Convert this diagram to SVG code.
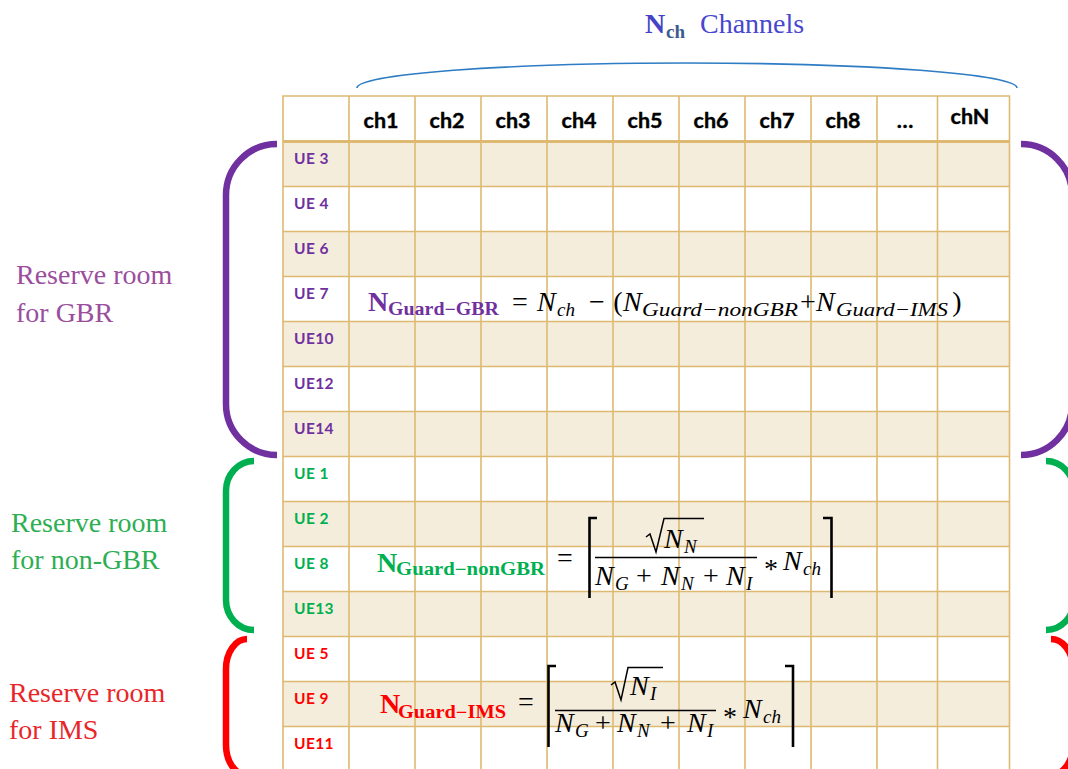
<svg xmlns="http://www.w3.org/2000/svg" width="1068" height="769" viewBox="0 0 1068 769">
  <defs>
    <style>
      .bg { fill: #ffffff; }
      .stripe { fill: #F5EDDC; }
      .grid { stroke: #DDB971; stroke-width: 1.6; fill: none; }
      .gridThick { stroke: #DDB971; stroke-width: 3.2; fill: none; }
      .hdr { font-family: Lato, "Liberation Sans", sans-serif; font-weight: 700; font-size: 21.5px; fill: #000; text-anchor: middle; stroke: #000; stroke-width: 0.4; }
      .ue { font-family: Lato, "Liberation Sans", sans-serif; font-weight: 700; font-size: 15.5px; letter-spacing: 0.4px; }
      .purple { fill: #7030A0; }
      .green { fill: #00B050; }
      .red { fill: #FF0000; }
      .side { font-family: "Liberation Serif", "Times New Roman", serif; font-size: 28px; }
      .brace { fill: none; stroke-width: 6.5; stroke-linecap: butt; }
      .m { font-family: "Liberation Serif", serif; font-style: italic; font-size: 28px; fill: #000; }
      .ms { font-family: "Liberation Serif", serif; font-style: italic; font-size: 19px; fill: #000; }
      .op { font-family: "Liberation Serif", serif; font-size: 28px; fill: #000; text-anchor: middle; }
      .bn { font-family: "Liberation Serif", serif; font-weight: 700; font-size: 28px; }
      .bs { font-family: "Liberation Serif", serif; font-weight: 700; font-size: 18px; }
      .rule { stroke: #000; stroke-width: 1.5; fill: none; }
      .delim { stroke: #000; stroke-width: 2.6; fill: none; }
    </style>
  </defs>

  <rect class="bg" x="0" y="0" width="1068" height="769"/>

  <!-- title over the channel columns -->
  <g id="title">
    <text x="645" y="33" font-family="Liberation Serif, serif" font-weight="700" font-size="28" fill="#4444C4">N</text>
    <text x="666" y="38" font-family="Liberation Serif, serif" font-weight="700" font-size="19" fill="#3B5B8E">ch</text>
    <text x="700" y="33" font-family="Liberation Serif, serif" font-size="28" fill="#4747CF">Channels</text>
  </g>

  <!-- channel table -->
  <g id="table">
    <rect x="283" y="96" width="726.5" height="45.5" fill="#fff"/>
    <g id="stripes">
      <rect class="stripe" x="283" y="141.5" width="726.5" height="45"/>
      <rect class="stripe" x="283" y="231.5" width="726.5" height="45"/>
      <rect class="stripe" x="283" y="321.5" width="726.5" height="45"/>
      <rect class="stripe" x="283" y="411.5" width="726.5" height="45"/>
      <rect class="stripe" x="283" y="501.5" width="726.5" height="45"/>
      <rect class="stripe" x="283" y="591.5" width="726.5" height="45"/>
      <rect class="stripe" x="283" y="681.5" width="726.5" height="45"/>
    </g>
    <g id="rows">
      <line class="grid" x1="283" y1="186.5" x2="1009.5" y2="186.5"/>
      <line class="grid" x1="283" y1="231.5" x2="1009.5" y2="231.5"/>
      <line class="grid" x1="283" y1="276.5" x2="1009.5" y2="276.5"/>
      <line class="grid" x1="283" y1="321.5" x2="1009.5" y2="321.5"/>
      <line class="grid" x1="283" y1="366.5" x2="1009.5" y2="366.5"/>
      <line class="grid" x1="283" y1="411.5" x2="1009.5" y2="411.5"/>
      <line class="grid" x1="283" y1="456.5" x2="1009.5" y2="456.5"/>
      <line class="grid" x1="283" y1="501.5" x2="1009.5" y2="501.5"/>
      <line class="grid" x1="283" y1="546.5" x2="1009.5" y2="546.5"/>
      <line class="grid" x1="283" y1="591.5" x2="1009.5" y2="591.5"/>
      <line class="grid" x1="283" y1="636.5" x2="1009.5" y2="636.5"/>
      <line class="grid" x1="283" y1="681.5" x2="1009.5" y2="681.5"/>
      <line class="grid" x1="283" y1="726.5" x2="1009.5" y2="726.5"/>
    </g>
    <g id="cols">
      <line class="grid" x1="349" y1="96" x2="349" y2="769"/>
      <line class="grid" x1="415" y1="96" x2="415" y2="769"/>
      <line class="grid" x1="481" y1="96" x2="481" y2="769"/>
      <line class="grid" x1="547" y1="96" x2="547" y2="769"/>
      <line class="grid" x1="613" y1="96" x2="613" y2="769"/>
      <line class="grid" x1="679" y1="96" x2="679" y2="769"/>
      <line class="grid" x1="745" y1="96" x2="745" y2="769"/>
      <line class="grid" x1="811" y1="96" x2="811" y2="769"/>
      <line class="grid" x1="877" y1="96" x2="877" y2="769"/>
      <line class="grid" x1="937.5" y1="96" x2="937.5" y2="769"/>
    </g>
    <path class="grid" d="M283,769 L283,96 L1009.5,96 L1009.5,769" stroke-width="2.2"/>
    <line class="gridThick" x1="283" y1="141.5" x2="1009.5" y2="141.5"/>

    <g id="header">
      <text class="hdr" x="381" y="128">ch1</text>
      <text class="hdr" x="447" y="128">ch2</text>
      <text class="hdr" x="513" y="128">ch3</text>
      <text class="hdr" x="579" y="128">ch4</text>
      <text class="hdr" x="645" y="128">ch5</text>
      <text class="hdr" x="711" y="128">ch6</text>
      <text class="hdr" x="777" y="128">ch7</text>
      <text class="hdr" x="843" y="128">ch8</text>
      <text class="hdr" x="905" y="128">…</text>
      <text class="hdr" x="970" y="124" font-size="18">chN</text>
    </g>

    <g id="ue-labels">
      <text class="ue purple" x="294" y="164">UE 3</text>
      <text class="ue purple" x="294" y="209">UE 4</text>
      <text class="ue purple" x="294" y="254">UE 6</text>
      <text class="ue purple" x="294" y="299">UE 7</text>
      <text class="ue purple" x="294" y="344">UE10</text>
      <text class="ue purple" x="294" y="389">UE12</text>
      <text class="ue purple" x="294" y="434">UE14</text>
      <text class="ue green" x="294" y="479">UE 1</text>
      <text class="ue green" x="294" y="524">UE 2</text>
      <text class="ue green" x="294" y="569">UE 8</text>
      <text class="ue green" x="294" y="614">UE13</text>
      <text class="ue red" x="294" y="659">UE 5</text>
      <text class="ue red" x="294" y="704">UE 9</text>
      <text class="ue red" x="294" y="749">UE11</text>
    </g>
  </g>

  <!-- group labels on the left -->
  <g id="label-gbr">
    <text class="side" x="16" y="284" fill="#9B4D9E">Reserve room</text>
    <text class="side" x="16" y="322" fill="#9B4D9E">for GBR</text>
  </g>
  <g id="label-nongbr">
    <text class="side" x="11" y="532" fill="#2DAE52">Reserve room</text>
    <text class="side" x="11" y="569" fill="#2DAE52">for non-GBR</text>
  </g>
  <g id="label-ims">
    <text class="side" x="9" y="702" fill="#E8262A">Reserve room</text>
    <text class="side" x="9" y="739" fill="#E8262A">for IMS</text>
  </g>

  <!-- braces: channel span and UE group brackets -->
  <g id="connectors">
    <path d="M357,88 A330,25 0 0 1 1017,88" fill="none" stroke="#2E7CC4" stroke-width="1.6"/>
    <path class="brace" stroke="#7030A0" d="M277,144 A51,51 0 0 0 226,195 L226,404 A51,51 0 0 0 277,455"/>
    <path class="brace" stroke="#00B050" d="M254,461 A28,30 0 0 0 226,491 L226,600 A28,30 0 0 0 254,630"/>
    <path class="brace" stroke="#FF0000" d="M247,639 A21,30 0 0 0 226,669 L226,745 A21,30 0 0 0 247,775"/>
    <path class="brace" stroke="#7030A0" d="M1021,144 A51,51 0 0 1 1072,195 L1072,404 A51,51 0 0 1 1021,455"/>
    <path class="brace" stroke="#00B050" d="M1046,461 A28,30 0 0 1 1074,491 L1074,600 A28,30 0 0 1 1046,630"/>
    <path class="brace" stroke="#FF0000" d="M1051,639 A22,30 0 0 1 1073,669 L1073,745 A22,30 0 0 1 1051,775"/>
  </g>

  <!-- guard size for GBR -->
  <g id="formula-gbr">
    <text class="bn purple" x="368" y="311">N</text>
    <text class="bs purple" x="388" y="315" textLength="111" lengthAdjust="spacingAndGlyphs">Guard−GBR</text>
    <text class="op" x="520" y="311">=</text>
    <text class="m" x="537" y="311">N</text>
    <text class="ms" x="557" y="316">ch</text>
    <text class="op" x="597" y="311">−</text>
    <text class="op" x="618" y="311">(</text>
    <text class="m" x="623" y="311">N</text>
    <text class="ms" x="642" y="316" textLength="156" lengthAdjust="spacingAndGlyphs">Guard−nonGBR</text>
    <text class="op" x="808" y="311">+</text>
    <text class="m" x="816" y="311">N</text>
    <text class="ms" x="836" y="316" textLength="112" lengthAdjust="spacingAndGlyphs">Guard−IMS</text>
    <text class="op" x="957" y="311">)</text>
  </g>

  <!-- guard size for non-GBR -->
  <g id="formula-nongbr">
    <text class="bn green" x="377" y="572">N</text>
    <text class="bs green" x="396" y="575" textLength="149" lengthAdjust="spacingAndGlyphs">Guard−nonGBR</text>
    <text class="op" x="565" y="567">=</text>
    <path class="delim" d="M597,518 L589.5,518 L589.5,598"/>
    <path class="rule" d="M646,537 L650,534 L656,552 L664,518.5 L704,518.5"/>
    <text class="m" x="664" y="548" font-size="27">N</text>
    <text class="ms" x="684" y="553" font-size="18">N</text>
    <line class="rule" x1="595" y1="557.5" x2="757" y2="557.5"/>
    <text class="m" x="595" y="585">N</text>
    <text class="ms" x="615" y="590">G</text>
    <text class="op" x="644" y="585">+</text>
    <text class="m" x="661" y="585">N</text>
    <text class="ms" x="681" y="590">N</text>
    <text class="op" x="711" y="585">+</text>
    <text class="m" x="726" y="585">N</text>
    <text class="ms" x="746" y="590">I</text>
    <text class="op" x="771" y="578" font-size="26">*</text>
    <text class="m" x="783" y="570">N</text>
    <text class="ms" x="803" y="575">ch</text>
    <path class="delim" d="M823,518 L831.5,518 L831.5,598"/>
  </g>

  <!-- guard size for IMS -->
  <g id="formula-ims">
    <text class="bn red" x="380" y="713">N</text>
    <text class="bs red" x="398" y="718" textLength="108" lengthAdjust="spacingAndGlyphs">Guard−IMS</text>
    <text class="op" x="526" y="711">=</text>
    <path class="delim" d="M556,666 L548.5,666 L548.5,747"/>
    <path class="rule" d="M611,685 L615,682 L621,700 L628,667.5 L663,667.5"/>
    <text class="m" x="630" y="695" font-size="27">N</text>
    <text class="ms" x="650" y="700" font-size="18">I</text>
    <line class="rule" x1="555" y1="710.5" x2="716" y2="710.5"/>
    <text class="m" x="555" y="732">N</text>
    <text class="ms" x="575" y="737">G</text>
    <text class="op" x="603" y="732">+</text>
    <text class="m" x="617" y="732">N</text>
    <text class="ms" x="637" y="737">N</text>
    <text class="op" x="668" y="732">+</text>
    <text class="m" x="687" y="732">N</text>
    <text class="ms" x="707" y="737">I</text>
    <text class="op" x="730" y="726" font-size="26">*</text>
    <text class="m" x="743" y="718">N</text>
    <text class="ms" x="763" y="723">ch</text>
    <path class="delim" d="M785,666 L793,666 L793,747"/>
  </g>
</svg>
